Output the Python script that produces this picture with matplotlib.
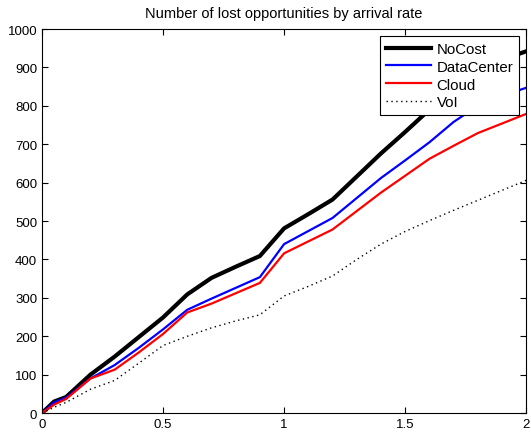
import matplotlib
matplotlib.use('Agg')
import matplotlib.pyplot as plt

# Taxa de chegada e número de oportunidades perdidas por estratégia
taxa = [0, 0.05, 0.1, 0.2, 0.3, 0.4, 0.5, 0.6, 0.7, 0.8, 0.9, 1.0,
        1.1, 1.2, 1.3, 1.4, 1.5, 1.6, 1.7, 1.8, 1.9, 2.0]
nocost = [0, 30, 42, 100, 147, 198, 249, 309, 352, 381, 409, 481,
          518, 556, 616, 676, 732, 790, 842, 885, 920, 942]
datacenter = [0, 28, 40, 90, 125, 170, 218, 269, 298, 326, 354, 440,
              474, 508, 560, 612, 658, 705, 758, 800, 826, 847]
cloud = [0, 22, 37, 90, 113, 158, 206, 262, 285, 312, 339, 416,
         447, 478, 526, 574, 618, 662, 696, 729, 754, 779]
voi = [0, 15, 28, 62, 85, 130, 176, 200, 222, 240, 256, 305,
       330, 357, 400, 440, 473, 501, 528, 554, 580, 606]

plt.rcParams['font.family'] = ['Liberation Sans', 'DejaVu Sans']

fig = plt.figure(figsize=(5.31, 4.35), dpi=100)
ax = fig.add_axes([0.079, 0.048, 0.912, 0.883])

ax.plot(taxa, nocost, color='black', linewidth=3.0, label='NoCost')
ax.plot(taxa, datacenter, color='blue', linewidth=1.6, label='DataCenter')
ax.plot(taxa, cloud, color='red', linewidth=1.6, label='Cloud')
ax.plot(taxa, voi, color='black', linewidth=1.0, linestyle=(0, (1, 2.5)), label='VoI')

ax.set_xlim(0, 2)
ax.set_ylim(0, 1000)
ax.set_xticks([0, 0.5, 1, 1.5, 2])
ax.set_xticklabels(['0', '0.5', '1', '1.5', '2'])
ax.set_yticks(range(0, 1001, 100))
ax.tick_params(direction='in', top=True, right=True, labelsize=9.5, length=4)
for s in ax.spines.values():
    s.set_linewidth(0.8)

ax.set_title('Number of lost opportunities by arrival rate', fontsize=10.5, pad=9)

leg = ax.legend(loc='upper right', fontsize=10.8, fancybox=False, framealpha=1,
                edgecolor='black', borderpad=0.4, labelspacing=0.26,
                handlelength=3.0, handletextpad=0.35, borderaxespad=0.45)
leg.get_frame().set_linewidth(0.8)

fig.savefig('out.png', dpi=100)
